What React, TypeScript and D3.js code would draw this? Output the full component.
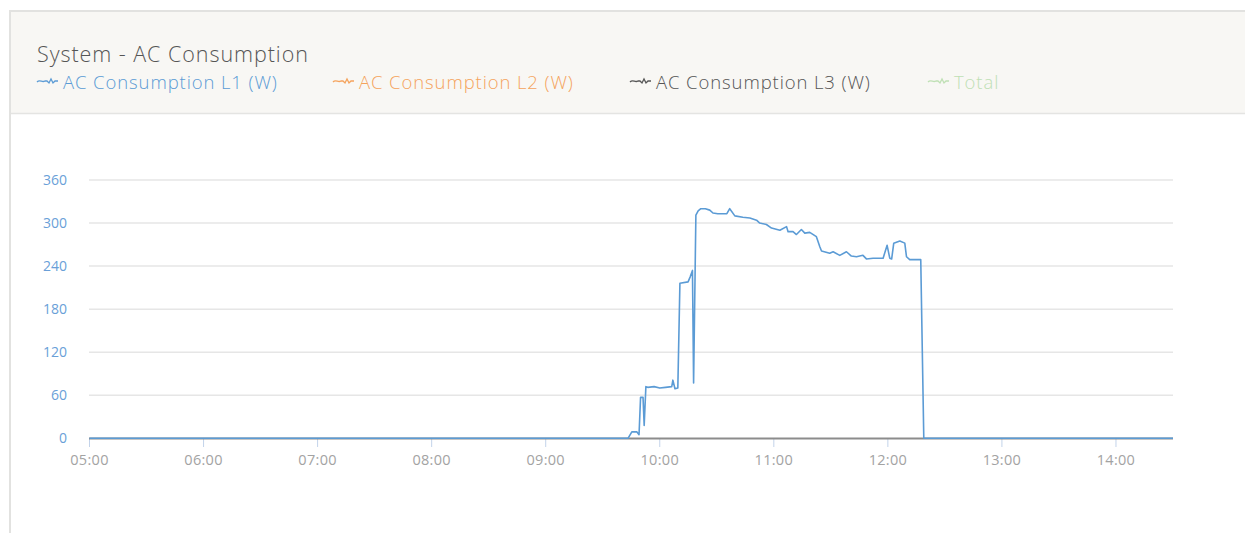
import React, { useEffect, useRef } from 'react';
import * as d3 from 'd3';

// L1 samples (time of day, watts)
const l1Times = [
  '05:00:00', '09:43:18', '09:45:18', '09:47:54', '09:49:06', '09:49:54', '09:51:12', '09:51:48',
  '09:52:42', '09:53:42', '09:57:00', '10:00:00', '10:03:00', '10:06:18', '10:06:54', '10:08:00',
  '10:09:30', '10:10:36', '10:14:54', '10:16:00', '10:17:12', '10:17:48', '10:19:00', '10:20:12',
  '10:21:36', '10:24:00', '10:26:18', '10:28:00', '10:30:30', '10:35:18', '10:36:48', '10:39:30',
  '10:43:42', '10:47:24', '10:50:54', '10:52:36', '10:56:06', '10:58:48', '11:03:12', '11:06:42',
  '11:07:30', '11:10:06', '11:11:54', '11:14:30', '11:16:18', '11:18:54', '11:22:24', '11:24:12',
  '11:25:06', '11:29:24', '11:31:12', '11:34:42', '11:38:12', '11:40:48', '11:43:30', '11:46:54',
  '11:48:42', '11:52:12', '11:57:30', '11:59:36', '12:01:00', '12:02:00', '12:03:06', '12:06:18',
  '12:08:54', '12:09:48', '12:11:30', '12:17:18', '12:18:54', '14:30:00'
];
const l1Values = [
  0, 0, 9, 9, 5, 57, 57, 18,
  72, 71, 72, 70, 71, 72, 81, 69,
  70, 216, 218, 225, 234, 77, 311, 317,
  320, 320, 318, 314, 313, 313, 320, 310,
  308, 307, 304, 300, 298, 293, 290, 295,
  288, 288, 284, 291, 286, 287, 281, 267,
  261, 258, 260, 255, 260, 254, 253, 255,
  250, 251, 251, 269, 251, 250, 272, 275,
  272, 253, 249, 249, 0, 0
];

const yTicks = [0, 60, 120, 180, 240, 300, 360];
const xTickHours = ['05:00', '06:00', '07:00', '08:00', '09:00', '10:00', '11:00', '12:00', '13:00', '14:00'];

const legendNames = ['AC Consumption L1 (W)', 'AC Consumption L2 (W)', 'AC Consumption L3 (W)', 'Total'];
const legendColors = ['#5b9bd5', '#f5a35c', '#555555', '#bfe0b4'];

const FONT = '"Open Sans", "Noto Sans", sans-serif';

export default function App() {
  const ref = useRef<SVGSVGElement>(null);

  useEffect(() => {
    const svg = d3.select(ref.current);
    svg.selectAll('*').remove();

    // panel
    svg.append('rect').attr('x', 10).attr('y', 11).attr('width', 1260).attr('height', 540)
      .attr('fill', '#fff').attr('stroke', '#e2e2e0').attr('stroke-width', 2);
    svg.append('rect').attr('x', 11).attr('y', 12).attr('width', 1260).attr('height', 101)
      .attr('fill', '#f8f7f4');
    svg.append('line').attr('x1', 11).attr('x2', 1245).attr('y1', 113.5).attr('y2', 113.5)
      .attr('stroke', '#e4e4e2').attr('stroke-width', 1.5);

    svg.append('text').attr('x', 37).attr('y', 62).text('System - AC Consumption')
      .attr('font-family', FONT).attr('font-weight', 300).attr('font-size', 21.5)
      .attr('letter-spacing', 0.95).attr('fill', '#555');

    const legendX = [37, 333, 630, 928];
    legendNames.forEach((n, i) => {
      const g = svg.append('g').attr('transform', `translate(${legendX[i]},82)`);
      g.append('path').attr('d', 'M0,0 C3,-3 5,1 8,-1 L10,-1 L12,1 L14,-3 L16,1 L18,-1 L21,-1')
        .attr('fill', 'none').attr('stroke', legendColors[i]).attr('stroke-width', 1.3);
      g.append('text').attr('x', 26).attr('y', 7).text(n)
        .attr('font-family', FONT).attr('font-weight', 300).attr('font-size', 18.5)
        .attr('letter-spacing', 0.9).attr('fill', legendColors[i]);
    });

    const parse = d3.timeParse('%H:%M:%S');
    const x = d3.scaleTime()
      .domain([parse('05:00:00') as Date, parse('14:30:00') as Date])
      .range([89.5, 1173]);
    const y = d3.scaleLinear().domain([0, 360]).range([438.3, 180]);

    // grid
    svg.append('g').selectAll('line').data(yTicks.slice(1)).join('line')
      .attr('x1', 89).attr('x2', 1173)
      .attr('y1', d => y(d)).attr('y2', d => y(d))
      .attr('stroke', '#e6e6e6').attr('stroke-width', 1.5);

    svg.append('g').selectAll('text').data(yTicks).join('text')
      .attr('x', 67).attr('y', d => y(d) + 5).attr('text-anchor', 'end')
      .attr('font-family', FONT).attr('font-size', 14).attr('fill', '#6a9fd8')
      .text(d => d);

    const xt = xTickHours.map(h => parse(h + ':00') as Date);
    svg.append('g').selectAll('line').data(xt).join('line')
      .attr('x1', d => x(d)).attr('x2', d => x(d)).attr('y1', 439).attr('y2', 447)
      .attr('stroke', '#c3d3ea').attr('stroke-width', 1);
    svg.append('g').selectAll('text').data(xt).join('text')
      .attr('x', d => x(d)).attr('y', 465).attr('text-anchor', 'middle')
      .attr('font-family', FONT).attr('font-size', 14.5).attr('letter-spacing', 0.3)
      .attr('fill', '#a3a3a3')
      .text(d => d3.timeFormat('%H:%M')(d));

    svg.append('line').attr('x1', 89).attr('x2', 1173).attr('y1', 438.5).attr('y2', 438.5)
      .attr('stroke', '#8c8c8c').attr('stroke-width', 2);

    const data = l1Times.map((t, i) => ({ t: parse(t) as Date, v: l1Values[i] }));
    const line = d3.line<{ t: Date; v: number }>().x(d => x(d.t)).y(d => y(d.v));
    svg.append('path').datum(data).attr('d', line)
      .attr('fill', 'none').attr('stroke', '#5b9bd5').attr('stroke-width', 1.6)
      .attr('stroke-linejoin', 'round');
  }, []);

  return (
    <svg ref={ref} width={1245} height={533}
      style={{ position: 'absolute', left: 0, top: 0, display: 'block' }} />
  );
}
